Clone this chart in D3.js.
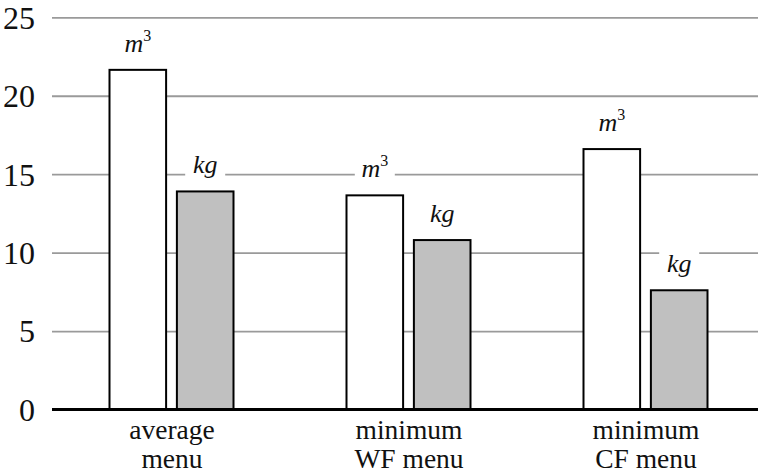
<!DOCTYPE html>
<html>
<head>
<meta charset="utf-8">
<script src="https://cdn.jsdelivr.net/npm/d3@7"></script>
</head>
<body style="margin:0">
<svg id="chart" width="765" height="475" font-family="Liberation Serif"></svg>
<script>
// ---- data ----
const categories = [["average", "menu"], ["minimum", "WF menu"], ["minimum", "CF menu"]];
const seriesKeys = ["m3", "kg"];
const m3Values = [21.65, 13.65, 16.6];
const kgValues = [13.9, 10.8, 7.6];
const yTicks = [0, 5, 10, 15, 20, 25];

const FONT = '"Liberation Serif"';
const seriesValues = { m3: m3Values, kg: kgValues };
const seriesFill = { m3: "#ffffff", kg: "#c0c0c0" };
const catIds = categories.map((c, i) => String(i));

const svg = d3.select("#chart");
const left = 52, right = 758;

const y = d3.scaleLinear().domain([0, 25]).range([409.5, 17.3]);
const x0 = d3.scalePoint().domain(catIds).range([53, 764]).padding(0.5);
const x1 = d3.scaleBand().domain(seriesKeys).range([-62, 62]).paddingInner(0.16);

// y axis with gridlines
const yAxis = d3.axisLeft(y).tickValues(yTicks).tickSizeInner(-(right - left)).tickSizeOuter(0).tickPadding(17)
  .tickFormat(d3.format("d"));
const gy = svg.append("g").attr("transform", `translate(${left},0)`).call(yAxis);
gy.attr("font-family", null).attr("font-size", null);
gy.select(".domain").remove();
gy.selectAll(".tick line").attr("stroke", "#9a9a9a").attr("stroke-width", 1.8);
gy.selectAll(".tick text").attr("font-size", 32).attr("fill", "#111")
  .style("font-family", FONT).attr("dy", "0.34em");

// groups
const rows = catIds.map((id, i) => seriesKeys.map(k => ({ id, key: k, value: seriesValues[k][i] })));
const groups = svg.append("g").selectAll("g").data(rows).join("g")
  .attr("transform", (d, i) => `translate(${x0(catIds[i])},0)`);

// labels above bars (with white knockout behind them)
const labelG = groups.selectAll("g.lab").data(d => d).join("g").attr("class", "lab")
  .attr("transform", d => `translate(${x1(d.key) + x1.bandwidth() / 2},${y(d.value) - 18})`);
labelG.append("rect").attr("fill", "#fff")
  .attr("x", -20).attr("y", -22).attr("width", 40).attr("height", 29);
labelG.append("text").attr("text-anchor", "middle").attr("font-size", 26)
  .style("font-style", "italic").style("font-family", FONT).attr("fill", "#111")
  .each(function (d) {
    const t = d3.select(this);
    if (d.key === "m3") {
      t.append("tspan").text("m");
      t.append("tspan").attr("font-size", 16).style("font-style", "normal")
        .attr("dy", -11).text("3");
    } else {
      t.text("kg");
    }
  });

// bars
groups.selectAll("rect.bar").data(d => d).join("rect").attr("class", "bar")
  .attr("x", d => x1(d.key))
  .attr("width", x1.bandwidth())
  .attr("y", d => y(d.value))
  .attr("height", d => y(0) - y(d.value))
  .attr("fill", d => seriesFill[d.key])
  .attr("stroke", "#000")
  .attr("stroke-width", 2);

// x axis
const xAxis = d3.axisBottom(x0).tickSize(0).tickPadding(0);
const gx = svg.append("g").attr("transform", `translate(0,${y(0)})`).call(xAxis);
gx.attr("font-family", null).attr("font-size", null);
gx.select(".domain").remove();
gx.selectAll(".tick text").each(function (d, i) {
  const t = d3.select(this).text(null).attr("font-size", 27.5).attr("fill", "#111")
    .style("font-family", FONT).attr("y", 0).attr("dy", null);
  categories[i].forEach((line, j) => {
    t.append("tspan").attr("x", 0).attr("y", 29.5 + j * 29).text(line);
  });
});

// baseline
svg.append("line").attr("x1", left).attr("x2", right).attr("y1", y(0)).attr("y2", y(0))
  .attr("stroke", "#000").attr("stroke-width", 3);
</script>
</body>
</html>
